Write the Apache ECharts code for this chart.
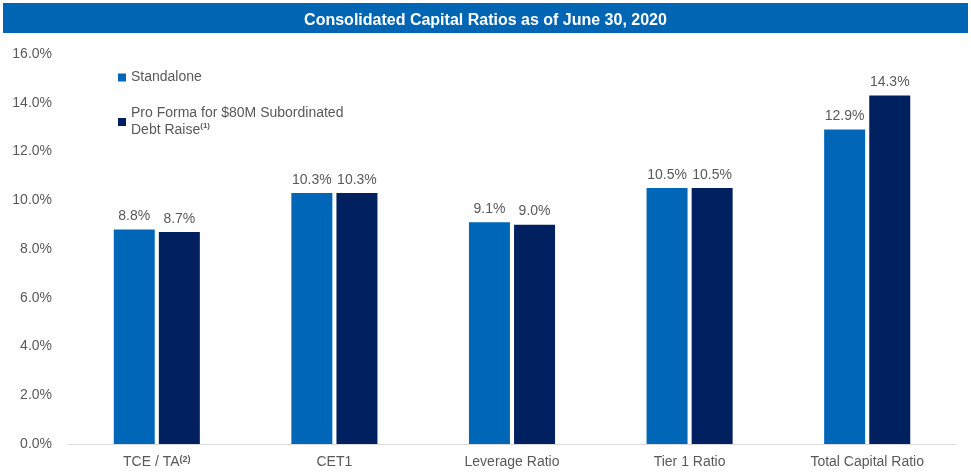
<!DOCTYPE html>
<html>
<head>
<meta charset="utf-8">
<script src="https://cdn.jsdelivr.net/npm/echarts@6/dist/echarts.min.js"></script>
<style>
  html, body { margin: 0; padding: 0; background: #fff; }
  #chart { width: 971px; height: 476px; }
</style>
</head>
<body>
<div id="chart"></div>
<script>
const categories = ['TCE / TA', 'CET1', 'Leverage Ratio', 'Tier 1 Ratio', 'Total Capital Ratio']
const standalone = [8.8, 10.3, 9.1, 10.5, 12.9]
const proForma = [8.7, 10.3, 9.0, 10.5, 14.3]
const yTicks = [0, 2, 4, 6, 8, 10, 12, 14, 16]

const textColor = '#595959'
const lightBlue = '#0067B8'
const darkBlue = '#00205F'
const font = 'Liberation Sans, Arial, sans-serif'

const chart = echarts.init(document.getElementById('chart'))

const option = {
  backgroundColor: '#fff',
  animation: false,
  graphic: [
    {
      type: 'rect',
      left: 3,
      top: 3,
      shape: { width: 965, height: 30 },
      style: { fill: '#0066B3' }
    }
  ],
  title: {
    text: 'Consolidated Capital Ratios as of June 30, 2020',
    left: 'center',
    top: 8,
    textStyle: {
      color: '#fff',
      fontSize: 16,
      fontWeight: 'bold',
      fontFamily: font
    }
  },
  legend: {
    orient: 'vertical',
    left: 113,
    top: 64,
    itemWidth: 8,
    itemHeight: 8,
    itemGap: 19,
    icon: 'rect',
    data: ['Standalone', 'Pro Forma'],
    formatter: function (name) {
      if (name === 'Pro Forma') {
        return 'Pro Forma for $80M Subordinated\nDebt Raise{sup|(1)}'
      }
      return name
    },
    textStyle: {
      color: textColor,
      fontSize: 14,
      fontFamily: font,
      lineHeight: 17,
      rich: {
        sup: { fontSize: 8, verticalAlign: 'top', color: textColor, padding: [0, 0, 6, 0], fontWeight: 'bold' }
      }
    }
  },
  grid: {
    left: 68,
    right: 15,
    top: 54,
    bottom: 32
  },
  xAxis: {
    type: 'category',
    data: categories,
    axisTick: { show: false },
    axisLine: { lineStyle: { color: '#D9D9D9', width: 1 } },
    axisLabel: {
      color: textColor,
      fontSize: 14,
      fontFamily: font,
      margin: 11,
      formatter: function (v) {
        if (v === 'TCE / TA') return 'TCE / TA{sup|(2)}'
        return v
      },
      rich: {
        sup: { fontSize: 9, verticalAlign: 'top', color: textColor, padding: [0, 0, 6, 0], fontWeight: 'bold' }
      }
    }
  },
  yAxis: {
    type: 'value',
    min: 0,
    max: 16,
    interval: 2,
    splitLine: { show: false },
    axisLine: { show: false },
    axisTick: { show: false },
    axisLabel: {
      color: textColor,
      fontSize: 14,
      fontFamily: font,
      margin: 16,
      formatter: function (v) {
        return yTicks.includes(v) ? v.toFixed(1) + '%' : ''
      }
    }
  },
  series: [
    {
      name: 'Standalone',
      type: 'bar',
      data: standalone,
      barWidth: 41,
      barGap: '10%',
      itemStyle: { color: lightBlue },
      label: {
        show: true,
        position: 'top',
        distance: 6,
        color: textColor,
        fontSize: 14,
        fontFamily: font,
        formatter: p => p.value.toFixed(1) + '%'
      }
    },
    {
      name: 'Pro Forma',
      type: 'bar',
      data: proForma,
      barWidth: 41,
      itemStyle: { color: darkBlue },
      label: {
        show: true,
        position: 'top',
        distance: 6,
        color: textColor,
        fontSize: 14,
        fontFamily: font,
        formatter: p => p.value.toFixed(1) + '%'
      }
    }
  ]
}

chart.setOption(option)
</script>
</body>
</html>
